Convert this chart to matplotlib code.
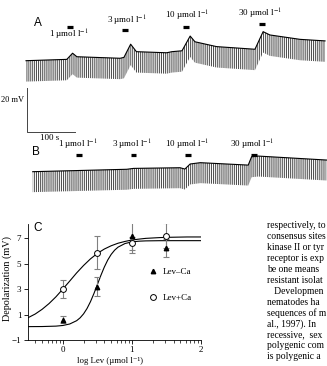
import matplotlib
matplotlib.use('Agg')
import matplotlib.pyplot as plt
import numpy as np

plt.rcParams['font.family'] = ['Liberation Serif', 'DejaVu Serif']
plt.rcParams['mathtext.fontset'] = 'stix'
plt.rcParams['hatch.linewidth'] = 0.75

# --- trace A: top envelope (time s, membrane potential mV, relative) ---
tA = [0, 85, 97, 106, 196, 204, 218, 230, 293, 304, 325, 342, 352, 397, 477, 494, 508, 571, 623]
vA = [0, 0.6, 3.4, 1.8, 1.1, 1.5, 7.5, 4.1, 3.6, 4.1, 4.5, 11.2, 8.6, 6.4, 5.2, 13.2, 11.7, 9.7, 9.0]
depthA = 9.5

# --- trace B ---
tB = [14, 210, 224, 321, 331, 342, 363, 463, 470, 484, 626]
vB = [0, 1.1, 1.5, 1.8, 1.2, 3.5, 4.1, 3.0, 6.8, 7.1, 5.3]
depthB = 9.3

doses = ['1', '3', '10', '30']
appA = [92, 206, 333, 491]      # application times, trace A
appB = [110, 224, 338, 475]     # application times, trace B

# --- panel C ---
log_lev = [0, 0.5, 1, 1.5]
lev_minus_ca = [0.6, 3.2, 7.2, 6.2]
lev_minus_ca_err = [0.25, 0.75, 1.35, 0.7]
lev_plus_ca = [3.0, 5.85, 6.6, 7.2]
lev_plus_ca_err = [0.7, 1.3, 0.5, 1.0]

fit_minus_x = [-0.5, -0.3, -0.1, 0, 0.1, 0.2, 0.25, 0.3, 0.35, 0.4, 0.45, 0.5, 0.55,
               0.6, 0.65, 0.7, 0.75, 0.8, 0.9, 1.0, 1.1, 1.2, 1.4, 1.6, 2.0]
fit_minus_y = [0.05, 0.057, 0.089, 0.14, 0.258, 0.517, 0.74, 1.052, 1.472, 2.009, 2.648, 3.354, 4.064,
               4.721, 5.28, 5.723, 6.055, 6.294, 6.575, 6.702, 6.758, 6.782, 6.797, 6.8, 6.8]
fit_plus_x = [-0.5, -0.4, -0.3, -0.2, -0.1, 0, 0.1, 0.2, 0.3, 0.4, 0.5, 0.6, 0.7,
              0.8, 0.9, 1.0, 1.1, 1.2, 1.3, 1.4, 1.5, 1.6, 1.7, 1.8, 1.9, 2.0]
fit_plus_y = [0.76, 1.04, 1.41, 1.86, 2.39, 3.0, 3.63, 4.27, 4.85, 5.37, 5.8, 6.14, 6.4,
              6.6, 6.74, 6.85, 6.92, 6.98, 7.01, 7.04, 7.06, 7.07, 7.08, 7.09, 7.09, 7.09]

body_text = ['respectively, to', 'consensus sites', 'kinase II or tyr', 'receptor is exp',
             'be one means', 'resistant isolat', '   Developmen', 'nematodes ha',
             'sequences of m', 'al., 1997). In', 'recessive,  sex', 'polygenic com',
             'is polygenic a']

W, H = 327, 366
fig = plt.figure(figsize=(W / 100, H / 100), dpi=100)

def unit(s):
    return s + ' \u00b5mol l$^{-1}$'

xlim = (-54.2, 627.1)
spike_col = '#505050'

# trace A
axA = fig.add_axes([0, 1 - 140 / H, 1, 140 / H])
axA.set_xlim(*xlim)
axA.set_ylim(-36.05, 27.59)
axA.axis('off')
vA_arr = np.array(vA)
axA.fill_between(tA, vA_arr, vA_arr - depthA, hatch='|' * 8, facecolor='none',
                 edgecolor=spike_col, linewidth=0)
axA.plot(tA, vA, color='k', lw=0.8)
barA_v = [15.2, 14.0, 15.5, 16.9]
textA_v = [11.7, 18.2, 20.3, 21.2]
textA_dt = [-2, 4, 3, -3]
for d, t, bv, tv, dt in zip(doses, appA, barA_v, textA_v, textA_dt):
    axA.plot([t - 6, t + 6], [bv, bv], color='k', lw=2.3, solid_capstyle='butt')
    axA.text(t + dt, tv, unit(d), ha='center', va='center', fontsize=6.5)
# scale bar
axA.plot([2.7, 2.7, 102.7], [-12.4, -32.45, -32.45], color='#444', lw=0.7)
axA.text(-53, -17.9, '20 mV', ha='left', va='center', fontsize=6)
axA.text(50, -35.3, '100 s', ha='center', va='center', fontsize=6.5)

# trace B
axB = fig.add_axes([0, 1 - 205 / H, 1, 65 / H])
axB.set_xlim(*xlim)
axB.set_ylim(-15.14, 14.41)
axB.axis('off')
vB_arr = np.array(vB)
axB.fill_between(tB, vB_arr, vB_arr - depthB, hatch='|' * 8, facecolor='none',
                 edgecolor=spike_col, linewidth=0)
axB.plot(tB, vB, color='k', lw=0.8)
for d, t in zip(doses, appB):
    axB.plot([t - 6, t + 6], [7.8, 7.8], color='k', lw=2.3, solid_capstyle='butt')
    axB.text(t - 3, 12.1, unit(d), ha='center', va='center', fontsize=6.5)

# panel C
axC = fig.add_axes([28.3 / W, 1 - 340 / H, 172.7 / W, 115.9 / H])
axC.plot(fit_plus_x, fit_plus_y, color='k', lw=0.8, zorder=2)
axC.plot(fit_minus_x, fit_minus_y, color='k', lw=0.8, zorder=2)
axC.errorbar(log_lev, lev_minus_ca, yerr=lev_minus_ca_err, fmt='none', ecolor='#808080',
             elinewidth=0.8, capsize=2, capthick=0.8, zorder=3)
axC.errorbar(log_lev, lev_plus_ca, yerr=lev_plus_ca_err, fmt='none', ecolor='#808080',
             elinewidth=0.8, capsize=2, capthick=0.8, zorder=3)
axC.plot(log_lev, lev_minus_ca, linestyle='none', marker='^', ms=3.2, mfc='k', mec='k',
         label='Lev\u2013Ca', zorder=4)
axC.plot(log_lev, lev_plus_ca, linestyle='none', marker='o', ms=4.2, mfc='white', mec='k',
         mew=0.7, label='Lev+Ca', zorder=4)
axC.set_xlim(-0.5, 2.0)
axC.set_ylim(-1, 8.1)
axC.set_xticks([0, 1, 2])
axC.set_yticks([-1, 1, 3, 5, 7])
minor = np.log10([0.4, 0.5, 0.6, 0.7, 0.8, 0.9, 2, 3, 4, 5, 6, 7, 8, 9,
                  20, 30, 40, 50, 60, 70, 80, 90])
axC.set_xticks(minor, minor=True)
for s in ['top', 'right']:
    axC.spines[s].set_visible(False)
for s in ['left', 'bottom']:
    axC.spines[s].set_linewidth(0.6)
axC.tick_params(which='major', direction='out', length=3, width=0.6, labelsize=6.5, pad=2)
axC.tick_params(axis='x', which='major', pad=1)
axC.tick_params(which='minor', direction='out', length=1.8, width=0.5)
axC.set_ylabel('Depolarization (mV)', fontsize=7.3)
axC.yaxis.set_label_coords(-0.095, 0.53)
axC.set_xlabel('log Lev (\u00b5mol l\u207b\u00b9)', fontsize=6.3, va='bottom')
axC.xaxis.set_label_coords(0.473, -(365.3 - 340) / 115.9)
axC.legend(loc='upper left', bbox_to_anchor=(0.696, 0.62), frameon=False, fontsize=6.5,
           handlelength=1.0, handletextpad=0.6, labelspacing=1.9, borderpad=0,
           borderaxespad=0)

# panel letters
for letter, (px, py) in zip('ABC', [(38, 23), (36, 152), (38, 228)]):
    fig.text(px / W, 1 - py / H, letter, fontsize=8.5, family='Liberation Sans',
             ha='center', va='center')

# body text column
for i, line in enumerate(body_text):
    fig.text(267 / W, 1 - (226 + i * 10.9) / H, line, fontsize=6.9, ha='left', va='center')

fig.savefig('out.png', dpi=100)
